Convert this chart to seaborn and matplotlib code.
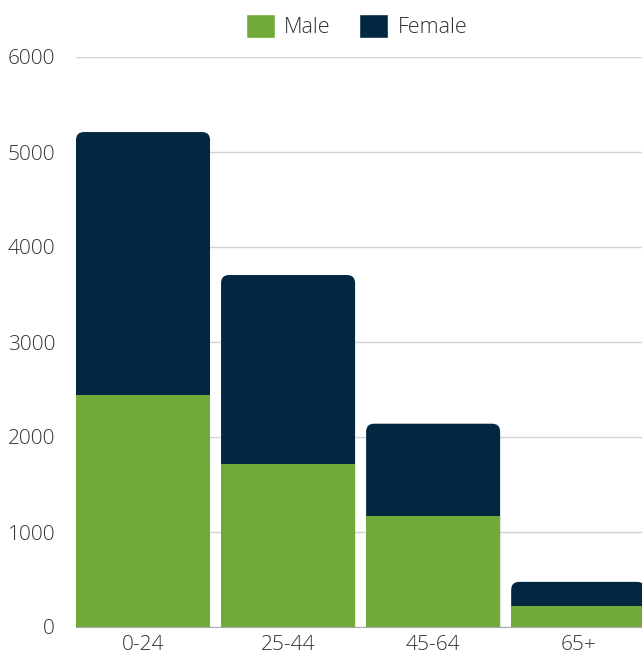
import pandas as pd
import seaborn as sns
import matplotlib.pyplot as plt
from matplotlib.path import Path
from matplotlib.patches import PathPatch, Patch

# === Data
age_groups = ["0-24", "25-44", "45-64", "65+"]
male = [2440, 1715, 1170, 220]
female = [2770, 1990, 970, 255]
y_ticks = [0, 1000, 2000, 3000, 4000, 5000, 6000]

green = "#71aa38"
navy = "#022841"
text_col = "#333333"

sns.set_style("white")
plt.rcParams['font.family'] = ['Open Sans', 'DejaVu Sans']
plt.rcParams['font.weight'] = 'light'

df = pd.DataFrame({"age": age_groups, "Male": male, "Female": female})
df["Total"] = df["Male"] + df["Female"]

W, H = 642, 660
fig = plt.figure(figsize=(W / 100, H / 100), dpi=100)
ax_l, ax_r, ax_t, ax_b = 76, 642, 57, 627
ax = fig.add_axes([ax_l / W, (H - ax_b) / H, (ax_r - ax_l) / W, (ax_b - ax_t) / H])

bar_w = 0.924
sns.barplot(data=df, x="age", y="Total", color=navy, width=bar_w, saturation=1,
            linewidth=0, ax=ax)
n_tot = len(ax.patches)
sns.barplot(data=df, x="age", y="Male", color=green, width=bar_w, saturation=1,
            linewidth=0, ax=ax, zorder=3)

x_lo, x_hi = -0.462, 3.44
ax.set_xlim(x_lo, x_hi)
ax.set_ylim(0, 6000)

# === Round the top corners of the stacked bars
rx = 8 * (x_hi - x_lo) / (ax_r - ax_l)
ry = 8 * 6000 / (ax_b - ax_t)
for p in list(ax.patches[:n_tot]):
    x, w, h = p.get_x(), p.get_width(), p.get_height()
    p.remove()
    verts = [(x, 0), (x, h - ry), (x, h), (x + rx, h), (x + w - rx, h),
             (x + w, h), (x + w, h - ry), (x + w, 0), (x, 0)]
    codes = [Path.MOVETO, Path.LINETO, Path.CURVE3, Path.CURVE3, Path.LINETO,
             Path.CURVE3, Path.CURVE3, Path.LINETO, Path.CLOSEPOLY]
    ax.add_patch(PathPatch(Path(verts, codes), facecolor=navy, edgecolor="none", zorder=2.9))

# === Axes styling
ax.set_yticks(y_ticks)
ax.yaxis.grid(True, color="#d3d3d3", linewidth=1)
ax.set_axisbelow(True)
for s in ["top", "right", "left"]:
    ax.spines[s].set_visible(False)
ax.spines["bottom"].set_color("#aaaaaa")
ax.spines["bottom"].set_zorder(1)
ax.tick_params(axis="both", length=0, labelsize=15, labelcolor=text_col)
ax.tick_params(axis="y", pad=15)
ax.tick_params(axis="x", pad=6)
ax.set_xlabel("")
ax.set_ylabel("")

handles = [Patch(facecolor=green, label="Male"), Patch(facecolor=navy, label="Female")]
fig.legend(handles=handles, loc="upper center", bbox_to_anchor=(356.5 / W, 1.0),
           ncol=2, frameon=False, fontsize=15.5, handlelength=1.35, handleheight=1.35,
           handletextpad=0.45, columnspacing=1.3, labelcolor=text_col, borderaxespad=0.25)

fig.savefig("out.png", dpi=100)
